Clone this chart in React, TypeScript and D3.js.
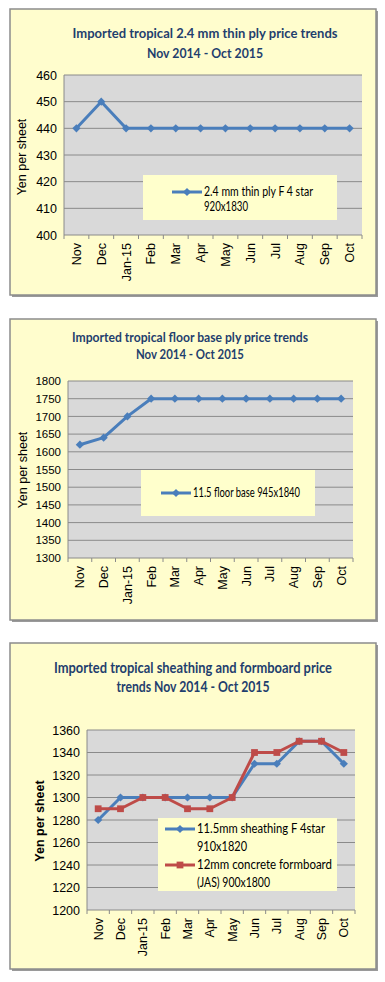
import * as d3 from 'd3'

const months = ['Nov', 'Dec', 'Jan-15', 'Feb', 'Mar', 'Apr', 'May', 'Jun', 'Jul', 'Aug', 'Sep', 'Oct']

const thinPly = [440, 450, 440, 440, 440, 440, 440, 440, 440, 440, 440, 440]
const floorBase = [1620, 1640, 1700, 1750, 1750, 1750, 1750, 1750, 1750, 1750, 1750, 1750]
const sheathing = [1280, 1300, 1300, 1300, 1300, 1300, 1300, 1330, 1330, 1350, 1350, 1330]
const formboard = [1290, 1290, 1300, 1300, 1290, 1290, 1300, 1340, 1340, 1350, 1350, 1340]

const thinPlyTicks = [400, 410, 420, 430, 440, 450, 460]
const floorBaseTicks = [1300, 1350, 1400, 1450, 1500, 1550, 1600, 1650, 1700, 1750, 1800]
const sheathingTicks = [1200, 1220, 1240, 1260, 1280, 1300, 1320, 1340, 1360]

const BLUE = '#4a7ebb'
const RED = '#be4b48'
const TITLE = '#1f3f6e'
const PANEL = '#fffdcd'
const LEGEND = '#ffffcc'
const PLOT = '#d9d9d9'
const GRID = '#8a8a8a'
const AXIS_FONT = '"Liberation Sans", Arial, sans-serif'
const CAL_FONT = 'Lato, "Open Sans", sans-serif'

interface Series {
  values: number[]
  color: string
  marker: 'diamond' | 'square'
  label: string[]
  labelWidths: number[]
}

interface ChartProps {
  box: { x: number; y: number; w: number; h: number }
  plot: { left: number; right: number; top: number; bottom: number }
  title: { lines: string[]; widths: number[]; baselines: number[]; cx: number; size: number }
  ticks: number[]
  tickSize: number
  yTitle: { x: number; y: number; bold: boolean }
  series: Series[]
  legend: { x: number; y: number; w: number; h: number; lineX: number; rows: number[]; rowGap: number }
}

const diamond = d3.symbol(d3.symbolSquare, 34)()
const square = d3.symbol(d3.symbolSquare, 46)()

const Chart = ({ box, plot, title, ticks, tickSize, yTitle, series, legend }: ChartProps) => {
  const x = d3.scaleBand<string>().domain(months).range([plot.left, plot.right])
  const y = d3.scaleLinear()
    .domain([ticks[0], ticks[ticks.length - 1]])
    .range([plot.bottom, plot.top])
  const cx = (m: string) => (x(m) as number) + x.bandwidth() / 2

  const line = d3.line<number>()
    .x((_, i) => cx(months[i]))
    .y(d => y(d))

  const marker = (s: Series, tx: number, ty: number, key: string | number) =>
    s.marker === 'diamond'
      ? <path key={key} d={diamond} transform={`translate(${tx},${ty}) rotate(45)`} fill={s.color} />
      : <path key={key} d={square} transform={`translate(${tx},${ty})`} fill={s.color} />

  return (
    <g>
      {/* panel with shadow */}
      <rect x={box.x + 2} y={box.y + 2} width={box.w} height={box.h} fill="#9a9a9a" />
      <rect x={box.x} y={box.y} width={box.w} height={box.h} fill={PANEL} stroke="#8c8c8c" strokeWidth={1.5} />

      {title.lines.map((t, i) => (
        <text key={i} x={title.cx} y={title.baselines[i]} textAnchor="middle" fontFamily={CAL_FONT}
          fontWeight="bold" fontSize={title.size} fill={TITLE}
          textLength={title.widths[i]} lengthAdjust="spacingAndGlyphs">{t}</text>
      ))}

      <rect x={plot.left} y={plot.top} width={plot.right - plot.left} height={plot.bottom - plot.top} fill={PLOT} />
      {ticks.map(t => (
        <line key={t} x1={plot.left} x2={plot.right} y1={y(t)} y2={y(t)} stroke={GRID} strokeWidth={1} />
      ))}
      <line x1={plot.left} x2={plot.left} y1={plot.top} y2={plot.bottom} stroke={GRID} strokeWidth={1} />
      {months.map(m => (
        <line key={m} x1={(x(m) as number)} x2={(x(m) as number)} y1={plot.bottom} y2={plot.bottom + 4} stroke={GRID} />
      ))}
      <line x1={plot.right} x2={plot.right} y1={plot.bottom} y2={plot.bottom + 4} stroke={GRID} />

      {ticks.map(t => (
        <text key={t} x={plot.left - 7} y={y(t) + tickSize * 0.36} textAnchor="end"
          fontFamily={AXIS_FONT} fontSize={tickSize} fill="#000">{t}</text>
      ))}

      {months.map(m => (
        <text key={m} transform={`translate(${cx(m) + 4.5},${plot.bottom + 8}) rotate(-90)`}
          textAnchor="end" fontFamily={AXIS_FONT} fontSize={12.5} fill="#000">{m}</text>
      ))}

      <text transform={`translate(${yTitle.x},${yTitle.y}) rotate(-90)`} textAnchor="middle"
        fontFamily={AXIS_FONT} fontSize={12.5} fontWeight={yTitle.bold ? 'bold' : 'normal'} fill="#000">
        Yen per sheet
      </text>

      {series.map((s, si) => (
        <g key={si}>
          <path d={line(s.values) ?? ''} fill="none" stroke={s.color} strokeWidth={3} strokeLinejoin="round" />
          {s.values.map((v, i) => marker(s, cx(months[i]), y(v), i))}
        </g>
      ))}

      <rect x={legend.x} y={legend.y} width={legend.w} height={legend.h} fill={LEGEND} />
      {series.map((s, si) => (
        <g key={si}>
          <line x1={legend.lineX} x2={legend.lineX + 30} y1={legend.rows[si]} y2={legend.rows[si]}
            stroke={s.color} strokeWidth={3} />
          {marker(s, legend.lineX + 15, legend.rows[si], 'm')}
          {s.label.map((l, li) => (
            <text key={li} x={legend.lineX + 32} y={legend.rows[si] + 4 + li * legend.rowGap}
              fontFamily={CAL_FONT} fontSize={12.5} fill="#000"
              textLength={s.labelWidths[li]} lengthAdjust="spacingAndGlyphs">{l}</text>
          ))}
        </g>
      ))}
    </g>
  )
}

const App = () => (
  <svg width={385} height={982} style={{ position: 'absolute', left: 0, top: 0, display: 'block', background: '#fff' }}>
    <Chart
      box={{ x: 10, y: 9, w: 366, h: 286 }}
      plot={{ left: 64, right: 362, top: 75, bottom: 235 }}
      title={{
        lines: ['Imported tropical 2.4 mm thin ply price trends', 'Nov 2014 - Oct 2015'],
        widths: [265, 116], baselines: [38, 58], cx: 205, size: 14
      }}
      ticks={thinPlyTicks}
      tickSize={12.5}
      yTitle={{ x: 26, y: 157, bold: false }}
      series={[{ values: thinPly, color: BLUE, marker: 'diamond', label: ['2.4 mm thin ply F 4 star', '920x1830'], labelWidths: [109, 44] }]}
      legend={{ x: 143, y: 175, w: 194, h: 45, lineX: 172, rows: [192], rowGap: 15 }}
    />
    <Chart
      box={{ x: 10, y: 319, w: 366, h: 301 }}
      plot={{ left: 68, right: 353, top: 381, bottom: 558 }}
      title={{
        lines: ['Imported tropical floor base ply price trends', 'Nov 2014 - Oct 2015'],
        widths: [236, 108], baselines: [342, 359], cx: 190, size: 13
      }}
      ticks={floorBaseTicks}
      tickSize={11.5}
      yTitle={{ x: 27, y: 470, bold: false }}
      series={[{ values: floorBase, color: BLUE, marker: 'diamond', label: ['11.5 floor base 945x1840'], labelWidths: [107] }]}
      legend={{ x: 141, y: 470, w: 174, h: 46, lineX: 161, rows: [493], rowGap: 15 }}
    />
    <Chart
      box={{ x: 10, y: 643, w: 366, h: 326 }}
      plot={{ left: 87, right: 355, top: 730, bottom: 910 }}
      title={{
        lines: ['Imported tropical sheathing and formboard price', 'trends Nov 2014 - Oct 2015'],
        widths: [278, 153], baselines: [673, 692], cx: 193, size: 14.5
      }}
      ticks={sheathingTicks}
      tickSize={12.5}
      yTitle={{ x: 44, y: 821, bold: true }}
      series={[
        { values: sheathing, color: BLUE, marker: 'diamond', label: ['11.5mm sheathing F 4star', '910x1820'], labelWidths: [128, 50] },
        { values: formboard, color: RED, marker: 'square', label: ['12mm concrete formboard', '(JAS) 900x1800'], labelWidths: [135, 73] }
      ]}
      legend={{ x: 158, y: 818, w: 179, h: 73, lineX: 165, rows: [829, 865], rowGap: 18 }}
    />
  </svg>
)

export default App
